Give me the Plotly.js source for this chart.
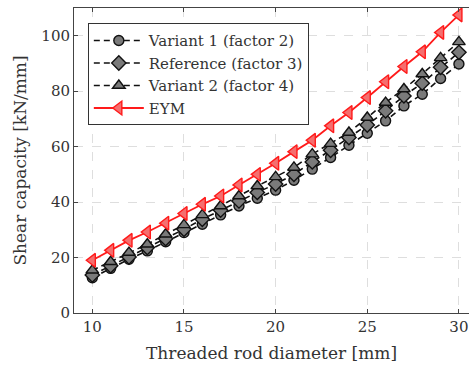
<!DOCTYPE html>
<html>
<head>
<meta charset="utf-8">
<script src="https://cdn.plot.ly/plotly-3.0.1.min.js"></script>
<style>html,body{margin:0;padding:0;background:#fff;}#chart{width:469px;height:368px;}</style>
</head>
<body>
<div id="chart"></div>
<script>
const diameter = [10,11,12,13,14,15,16,17,18,19,20,21,22,23,24,25,26,27,28,29,30];
const variant1 = [12.7,16.1,19.4,22.4,25.7,29.0,32.0,35.4,38.6,41.4,44.3,47.9,51.9,56.1,60.5,64.8,69.3,74.7,78.9,84.6,89.8];
const reference = [13.7,17.0,20.2,23.6,26.8,30.2,33.8,37.1,40.4,43.5,46.5,50.0,54.5,58.7,63.3,67.8,72.9,78.3,82.9,88.6,94.0];
const variant2 = [15.4,18.5,21.8,24.8,28.4,31.8,35.4,38.6,42.2,45.8,49.1,52.5,57.3,61.1,65.1,70.5,75.9,80.8,86.2,92.0,97.8];
const eym = [19.0,22.6,26.2,29.2,32.4,35.9,39.2,42.2,46.2,50.0,54.0,58.2,62.3,67.5,72.3,77.7,83.4,88.9,94.2,101.2,107.5];
const names = ['Variant 1 (factor 2)','Reference (factor 3)','Variant 2 (factor 4)','EYM'];

const font = "'DejaVu Serif', 'Liberation Serif', serif";
function dashed(y, name, symbol, size){
  return {x: diameter, y: y, name: name, type:'scatter', mode:'lines+markers',
    line:{color:'#111', width:1.6, dash:'6px,4px'},
    marker:{symbol:symbol, size:size, color:'#7a7a7a', line:{color:'#111', width:1.4}}};
}
const data = [
  dashed(variant1, names[0], 'circle', 10),
  dashed(reference, names[1], 'diamond', 11),
  dashed(variant2, names[2], 'triangle-up', 11),
  {x: diameter, y: eym, name: names[3], type:'scatter', mode:'lines+markers',
   line:{color:'#ff1a1a', width:1.8},
   marker:{symbol:'triangle-left', size:12, color:'rgba(245,110,110,1)', line:{color:'#ff1a1a', width:1.4}}}
];
const axisCommon = {
  showline:true, linecolor:'#444', linewidth:1,
  ticks:'inside', ticklen:4, tickcolor:'#444',
  showgrid:true, gridcolor:'#dedede', griddash:'dash', gridwidth:1,
  zeroline:false, tickfont:{family:font, size:15, color:'#333'}
};
const layout = {
  width:469, height:368,
  margin:{l:74, r:0, t:8, b:55},
  paper_bgcolor:'#fff', plot_bgcolor:'#fff',
  showlegend:true,
  xaxis: Object.assign({}, axisCommon, {
    range:[9,30.55], tickvals:[10,15,20,25,30], mirror:'ticks',
    title:{text:'Threaded rod diameter [mm]', font:{family:font, size:17, color:'#333'}, standoff:12}
  }),
  yaxis: Object.assign({}, axisCommon, {
    range:[0,110], tickvals:[0,20,40,60,80,100],
    title:{text:'Shear capacity [kN/mm]', font:{family:font, size:17, color:'#333'}, standoff:10}
  }),
  legend:{x:0.035, y:0.95, xanchor:'left', yanchor:'top',
    bgcolor:'#fff', bordercolor:'#333', borderwidth:1,
    font:{family:font, size:15, color:'#333'},
    itemwidth:50, tracegroupgap:0},
};
Plotly.newPlot('chart', data, layout, {displayModeBar:false, staticPlot:true});
</script>
</body>
</html>
